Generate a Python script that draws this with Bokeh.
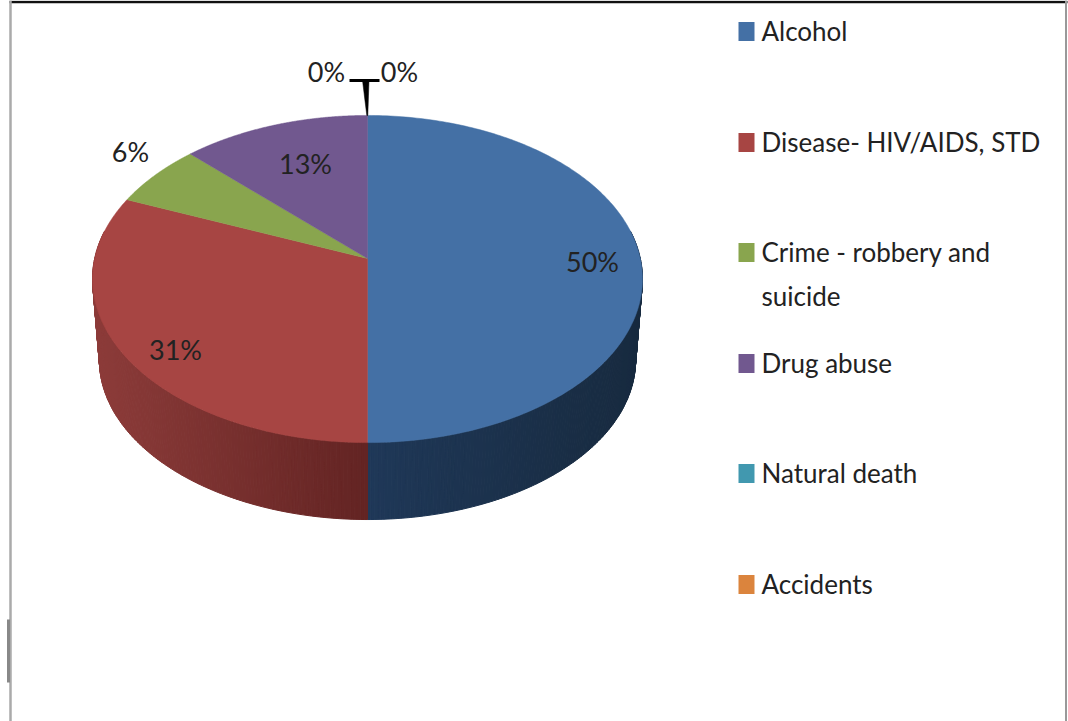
import numpy as np
from bokeh.plotting import figure
from bokeh.models import Range1d
from bokeh.core.properties import value
from bokeh.embed import file_html
from bokeh.resources import INLINE

categories = ["Alcohol", "Disease- HIV/AIDS, STD", "Crime - robbery and\nsuicide", "Drug abuse", "Natural death", "Accidents"]
shares = [50, 31.25, 6.25, 12.5, 0, 0]
share_labels = ["50%", "31%", "6%", "13%", "0%", "0%"]
colors = ["#4470A5", "#A74543", "#89A54E", "#71588F", "#4198AF", "#DB843D"]

FONT = "Lato"
FS = "26px"
TXT = "#222222"

W, H = 1068, 721
p = figure(width=W, height=H, output_backend="svg", toolbar_location=None,
           x_range=Range1d(0, W), y_range=Range1d(H, 0),
           min_border=0, outline_line_color=None, background_fill_color="white",
           styles={"position": "absolute", "left": "0px", "top": "0px"})
p.axis.visible = False
p.grid.visible = False

# perspective projection of the tilted pie
CX = 367.0
A = 0.1255


def rim(theta, apex, k, r):
    d = 1 + A * np.cos(theta)
    return CX + r * np.sin(theta) / d, apex - k * np.cos(theta) / d


TOP = (258.0, 161.0, 272.8)
BOT = (339.5, 157.0, 266.0)

edges = np.cumsum([0] + shares) / 100 * 2 * np.pi

# side wall, drawn as thin shaded strips
shade_ends = {0: ("#1F3858", "#172A3F"), 1: ("#632423", "#8C3B39")}


def lerp_hex(a, b, t):
    ca = [int(a[i:i + 2], 16) for i in (1, 3, 5)]
    cb = [int(b[i:i + 2], 16) for i in (1, 3, 5)]
    return "#%02x%02x%02x" % tuple(int(round(u + (v - u) * t)) for u, v in zip(ca, cb))


for idx in (0, 1):
    a0, a1 = edges[idx], edges[idx + 1]
    steps = np.linspace(max(a0, np.radians(80)), min(a1, np.radians(280)), 160)
    for s0, s1 in zip(steps[:-1], steps[1:]):
        ts = np.array([s0, s1])
        xt, yt = rim(ts, *TOP)
        xb, yb = rim(ts, *BOT)
        frac = min(abs(xt.mean() - CX) / 272.8, 1.0)
        c = lerp_hex(*shade_ends[idx], frac)
        p.patch(np.r_[xt, xb[::-1]], np.r_[yt, yb[::-1]], fill_color=c, line_color=c, line_width=1)

# top face
for i in range(4):
    ts = np.linspace(edges[i], edges[i + 1], 200)
    x, y = rim(ts, *TOP)
    p.patch(np.r_[CX, x], np.r_[TOP[0], y], fill_color=colors[i], line_color=colors[i], line_width=0.5)

# leader lines for the zero slices
x_lead, y_lead = rim(np.array([0.0]), *TOP)
p.line([349, 379], [80, 80], line_color="#000000", line_width=3)
p.patch([362, 368.5, x_lead[0] + 0.3, x_lead[0] - 0.7], [80, 80, y_lead[0], y_lead[0]],
        fill_color="#000000", line_color="#000000", line_width=0.5)

# data labels
label_x = [592, 175, 130, 305, 326, 399]
label_y = [261, 349, 151, 163, 71, 71]
p.text(label_x, label_y, text=share_labels, text_font=value(FONT), text_font_size=value("27px"),
       text_color=TXT, text_align="center", text_baseline="middle")

# legend
leg_y = [31, 142, 252, 363, 473, 584]
p.rect([746] * 6, leg_y, width=16, height=19, fill_color=colors, line_color=None)
text_rows = [(c.split("\n")[0], y) for c, y in zip(categories, leg_y)] + [("suicide", 296)]
p.text([761] * len(text_rows), [r[1] - 1 for r in text_rows], text=[r[0] for r in text_rows],
       text_font=value(FONT), text_font_size=value(FS), text_color=TXT,
       text_align="left", text_baseline="middle")

# frame
p.line([9, W - 1], [1.5, 1.5], line_color="#111111", line_width=2.5)
p.line([10, 10], [0, H], line_color="#AAAAAA", line_width=2.5)
p.line([8, 8], [619, 682], line_color="#888888", line_width=3)
p.line([1065.5, 1065.5], [0, H], line_color="#999999", line_width=2)

open("out.html", "w").write(file_html(p, INLINE))
